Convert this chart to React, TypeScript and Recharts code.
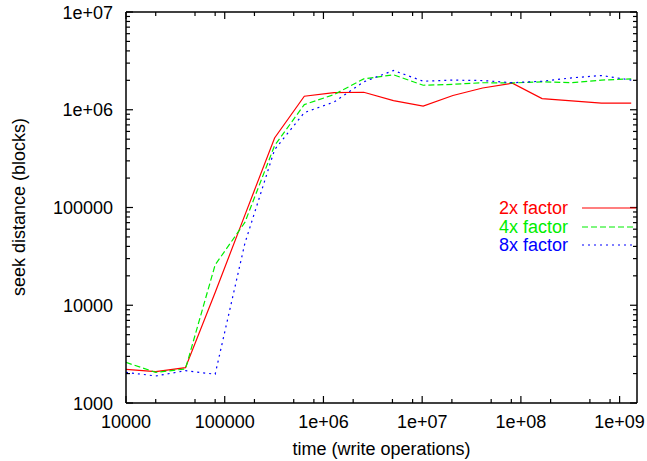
import React from 'react';
import { LineChart, Line, XAxis, YAxis, Legend } from 'recharts';

// x positions: write operations (log scale), doubling each step
const writeOps = [
  10000, 20000, 40000, 80000, 160000, 320000, 640000, 1280000, 2560000,
  5120000, 10240000, 20480000, 40960000, 81920000, 163840000, 327680000,
  655360000, 1310720000,
];

// seek distance (blocks) per growth factor
const factor2 = [
  2210, 2090, 2300, 13500, 83600, 515000, 1375000, 1500000, 1510000,
  1240000, 1090000, 1400000, 1670000, 1870000, 1300000, 1230000, 1170000, 1170000,
];
const factor4 = [
  2600, 2060, 2230, 25900, 70400, 430000, 1130000, 1430000, 2070000,
  2280000, 1780000, 1820000, 1890000, 1880000, 1930000, 1890000, 2010000, 2070000,
];
const factor8 = [
  2060, 1890, 2140, 1970, 43000, 391000, 935000, 1200000, 1930000,
  2520000, 1960000, 2010000, 1990000, 1890000, 1960000, 2120000, 2240000, 2010000,
];

const seriesNames = ['2x factor', '4x factor', '8x factor'];

const xMajor = [1e4, 1e5, 1e6, 1e7, 1e8, 1e9];
const yMajor = [1e3, 1e4, 1e5, 1e6, 1e7];

const X_MAX = 1.5e9;
const FONT = '"Liberation Sans", Arial, Helvetica, sans-serif';

const xTicks: number[] = [];
xMajor.forEach(d => {
  xTicks.push(d);
  [2, 5, 8].forEach(m => {
    if (d * m < X_MAX) xTicks.push(d * m);
  });
});

const yTicks: number[] = [];
yMajor.forEach(d => {
  yTicks.push(d);
  if (d < 1e7) for (let m = 2; m <= 9; m++) yTicks.push(d * m);
});

const data = writeOps.map((ops, i) => ({
  ops,
  f2: factor2[i],
  f4: factor4[i],
  f8: factor8[i],
}));

const series = [
  { key: 'f2', name: seriesNames[0], color: '#ff0000', dash: undefined },
  { key: 'f4', name: seriesNames[1], color: '#00ee00', dash: '6 3' },
  { key: 'f8', name: seriesNames[2], color: '#0000ff', dash: '2 4' },
];

const isMajor = (v: number) => Math.abs(Math.log10(v) - Math.round(Math.log10(v))) < 1e-9;
const fmt = (v: number) => (v < 1e6 ? String(v) : `1e+0${Math.round(Math.log10(v))}`);

const BottomTick = ({ x, y, payload }: any) => {
  const major = isMajor(payload.value);
  return (
    <g>
      <line x1={x} x2={x} y1={y} y2={y - (major ? 7 : 4)} stroke="#000" strokeWidth={1.2} />
      {major && (
        <text x={x} y={y + 25} textAnchor="middle" fontSize={18} fontFamily={FONT} fill="#000">
          {fmt(payload.value)}
        </text>
      )}
    </g>
  );
};

const TopTick = ({ x, y, payload }: any) => {
  const major = isMajor(payload.value);
  return <line x1={x} x2={x} y1={y} y2={y + (major ? 7 : 4)} stroke="#000" strokeWidth={1.2} />;
};

const LeftTick = ({ x, y, payload }: any) => {
  const major = isMajor(payload.value);
  return (
    <g>
      <line x1={x} x2={x + (major ? 7 : 4)} y1={y} y2={y} stroke="#000" strokeWidth={1.2} />
      {major && (
        <text x={x - 13} y={y + 6.5} textAnchor="end" fontSize={18} fontFamily={FONT} fill="#000">
          {fmt(payload.value)}
        </text>
      )}
    </g>
  );
};

const RightTick = ({ x, y, payload }: any) => {
  const major = isMajor(payload.value);
  return <line x1={x} x2={x - (major ? 7 : 4)} y1={y} y2={y} stroke="#000" strokeWidth={1.2} />;
};

const XTitle = () => (
  <text x={381.5} y={454.5} textAnchor="middle" fontSize={18} fontFamily={FONT} fill="#000">
    time (write operations)
  </text>
);

const YTitle = () => (
  <text
    transform="translate(25, 207) rotate(-90)"
    textAnchor="middle"
    fontSize={18}
    fontFamily={FONT}
    fill="#000"
  >
    seek distance (blocks)
  </text>
);

const LegendBox = () => (
  <div style={{ fontFamily: FONT, fontSize: 18 }}>
    {series.map(s => (
      <div key={s.key} style={{ display: 'flex', alignItems: 'center', height: 18.5 }}>
        <span style={{ width: 128, textAlign: 'right', color: s.color, lineHeight: '18.5px' }}>
          {s.name}
        </span>
        <svg width={54} height={4} style={{ marginLeft: 14 }}>
          <line x1={0} x2={54} y1={2} y2={2} stroke={s.color} strokeWidth={1.2} strokeDasharray={s.dash} />
        </svg>
      </div>
    ))}
  </div>
);

const axisLine = { stroke: '#000', strokeWidth: 1.5 };

export default function App() {
  return (
    <div style={{ position: 'absolute', left: 0, top: 0, background: '#fff' }}>
      <LineChart width={647} height={461} data={data} margin={{ top: 0, right: 0, left: 0, bottom: 0 }}>
        <XAxis
          dataKey="ops"
          type="number"
          scale="log"
          domain={[1e4, X_MAX]}
          allowDataOverflow
          ticks={xTicks}
          interval={0}
          tick={BottomTick}
          tickLine={false}
          tickSize={0}
          tickMargin={0}
          axisLine={axisLine}
          height={58}
          label={XTitle}
        />
        <XAxis
          xAxisId="top"
          orientation="top"
          dataKey="ops"
          type="number"
          scale="log"
          domain={[1e4, X_MAX]}
          allowDataOverflow
          ticks={xTicks}
          interval={0}
          tick={TopTick}
          tickLine={false}
          tickSize={0}
          tickMargin={0}
          axisLine={axisLine}
          height={12}
        />
        <YAxis
          type="number"
          scale="log"
          domain={[1e3, 1e7]}
          allowDataOverflow
          ticks={yTicks}
          interval={0}
          tick={LeftTick}
          tickLine={false}
          tickSize={0}
          tickMargin={0}
          axisLine={axisLine}
          width={126}
          label={YTitle}
        />
        <YAxis
          yAxisId="right"
          orientation="right"
          type="number"
          scale="log"
          domain={[1e3, 1e7]}
          allowDataOverflow
          ticks={yTicks}
          interval={0}
          tick={RightTick}
          tickLine={false}
          tickSize={0}
          tickMargin={0}
          axisLine={axisLine}
          width={10}
        />
        <Legend
          layout="horizontal"
          verticalAlign="middle"
          align="center"
          content={LegendBox}
          wrapperStyle={{ position: 'absolute', left: 440, top: 199, width: 200 }}
        />
        {series.map(s => (
          <Line
            key={s.key}
            type="linear"
            dataKey={s.key}
            name={s.name}
            stroke={s.color}
            strokeWidth={1.2}
            strokeDasharray={s.dash}
            dot={false}
            activeDot={false}
            isAnimationActive={false}
          />
        ))}
      </LineChart>
    </div>
  );
}
